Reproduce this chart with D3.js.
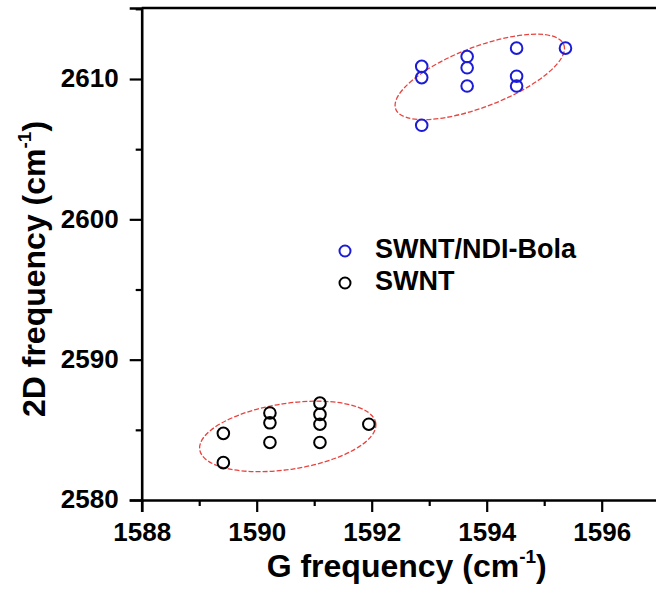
<!DOCTYPE html>
<html>
<head>
<meta charset="utf-8">
<script src="https://cdn.jsdelivr.net/npm/d3@7"></script>
<style>
  html, body { margin: 0; padding: 0; background: #fff; }
  svg { display: block; font-family: "Liberation Sans", Arial, sans-serif; font-weight: bold; }
</style>
</head>
<body>
<svg id="chart" width="656" height="596"></svg>
<script>
// ---- data ----
const seriesNames = ["SWNT/NDI-Bola", "SWNT"];
const bolaG  = [1592.87, 1592.87, 1592.87, 1593.66, 1593.66, 1593.66, 1594.52, 1594.52, 1594.52, 1595.37];
const bola2D = [2610.9, 2610.1, 2606.7, 2611.6, 2610.8, 2609.5, 2612.2, 2610.2, 2609.5, 2612.2];
const swntG  = [1589.42, 1589.42, 1590.23, 1590.23, 1590.23, 1591.10, 1591.10, 1591.10, 1591.10, 1591.95];
const swnt2D = [2584.75, 2582.66, 2586.2, 2585.5, 2584.1, 2586.9, 2586.1, 2585.4, 2584.1, 2585.4];
const xTicks = [1588, 1590, 1592, 1594, 1596];
const yTicks = [2580, 2590, 2600, 2610];
// ellipse annotations (centre in data units)
const ellipseCentersG  = [1593.88, 1590.54];
const ellipseCenters2D = [2610.15, 2584.53];

// ---- layout ----
const svg = d3.select("#chart");
const mLeft = 141.7, mBottom = 500, mTop = 8;
const x = d3.scaleLinear().domain([1588, 1597]).range([mLeft, mLeft + 9 * 57.5]);
const y = d3.scaleLinear().domain([2580, 2615.06]).range([mBottom, mTop]);

const blue = "#1c1cd6";
const red = "#e8433e";

// ellipses
const ellShape = [{a: 90, b: 30, ang: 21}, {a: 89, b: 33, ang: 8.6}];
ellipseCentersG.forEach((g, i) => {
  const cx = x(g), cy = y(ellipseCenters2D[i]);
  svg.append("ellipse")
    .attr("cx", cx).attr("cy", cy)
    .attr("rx", ellShape[i].a).attr("ry", ellShape[i].b)
    .attr("transform", `rotate(${-ellShape[i].ang},${cx},${cy})`)
    .attr("fill", "none").attr("stroke", red)
    .attr("stroke-width", 1.3).attr("stroke-dasharray", "5,2");
});

// axes
const xAxis = svg.append("g").attr("transform", `translate(0,${mBottom})`)
  .call(d3.axisBottom(x).tickValues(xTicks).tickFormat(d3.format("d")).tickSize(12).tickPadding(9));
const xMinor = svg.append("g").attr("transform", `translate(0,${mBottom})`)
  .call(d3.axisBottom(x).tickValues(xTicks.map(v => v + 1)).tickFormat("").tickSize(6));
const yAxis = svg.append("g").attr("transform", `translate(${mLeft},0)`)
  .call(d3.axisLeft(y).tickValues(yTicks).tickFormat(d3.format("d")).tickSize(12).tickPadding(11));
const yMinor = svg.append("g").attr("transform", `translate(${mLeft},0)`)
  .call(d3.axisLeft(y).tickValues(yTicks.map(v => v + 5)).tickFormat("").tickSize(6));

[xAxis, xMinor, yAxis, yMinor].forEach(g => {
  g.select(".domain").attr("stroke", "#000").attr("stroke-width", 2.6);
  g.selectAll(".tick line").attr("stroke", "#000").attr("stroke-width", 2.2);
  g.selectAll(".tick text").attr("fill", "#000").attr("font-size", 26)
    .attr("font-family", "'Liberation Sans', Arial, sans-serif").attr("font-weight", "bold");
});
xMinor.select(".domain").remove();
yMinor.select(".domain").remove();
yAxis.selectAll(".tick text").attr("dy", "0.3em");
xAxis.selectAll(".tick text").attr("dy", "0.78em");

// top frame line
svg.append("line").attr("x1", mLeft).attr("x2", 656).attr("y1", y(2615.06)).attr("y2", y(2615.06))
  .attr("stroke", "#000").attr("stroke-width", 2.6);

// points
svg.append("g").selectAll("circle").data(swntG).join("circle")
  .attr("cx", d => x(d)).attr("cy", (d, i) => y(swnt2D[i])).attr("r", 5.8)
  .attr("fill", "none").attr("stroke", "#000").attr("stroke-width", 2);
svg.append("g").selectAll("circle").data(bolaG).join("circle")
  .attr("cx", d => x(d)).attr("cy", (d, i) => y(bola2D[i])).attr("r", 5.8)
  .attr("fill", "none").attr("stroke", blue).attr("stroke-width", 2);

// legend
const legColors = [blue, "#000"];
seriesNames.forEach((name, i) => {
  const ly = 251 + i * 32;
  svg.append("circle").attr("cx", 345).attr("cy", ly).attr("r", 5.5)
    .attr("fill", "none").attr("stroke", legColors[i]).attr("stroke-width", 2);
  svg.append("text").attr("x", 375).attr("y", ly + 6.5).attr("font-size", 27)
    .attr("fill", "#000").text(name);
});

// axis titles
const xt = svg.append("text").attr("x", 406.7).attr("y", 577).attr("text-anchor", "middle")
  .attr("font-size", 32).attr("fill", "#000");
xt.append("tspan").text("G frequency (cm");
xt.append("tspan").attr("font-size", 19).attr("dy", -14).text("-1");
xt.append("tspan").attr("dy", 14).text(")");

const yt = svg.append("text").attr("transform", "translate(45,269) rotate(-90)")
  .attr("text-anchor", "middle").attr("font-size", 32).attr("fill", "#000");
yt.append("tspan").text("2D frequency (cm");
yt.append("tspan").attr("font-size", 19).attr("dy", -14).text("-1");
yt.append("tspan").attr("dy", 14).text(")");
</script>
</body>
</html>
